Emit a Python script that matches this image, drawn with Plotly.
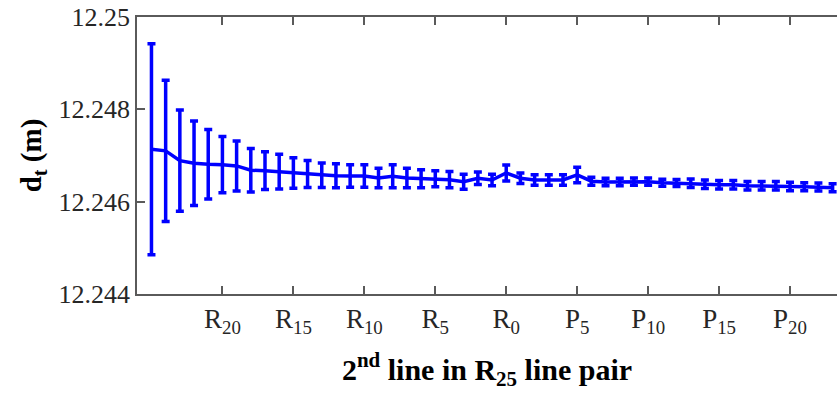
import plotly.graph_objects as go

# ---- data ----
lines = [f"R{j}" for j in range(25, -1, -1)] + [f"P{j}" for j in range(1, 24)]

d_t = [
    12.247135, 12.247100, 12.246889, 12.246832, 12.246810, 12.246802, 12.246774,
    12.246680, 12.246672, 12.246650, 12.246622, 12.246600, 12.246572, 12.246561,
    12.246557, 12.246557, 12.246514, 12.246550, 12.246514, 12.246496, 12.246496,
    12.246477, 12.246433, 12.246507, 12.246470, 12.246622,
    12.246507, 12.246470, 12.246470, 12.246470, 12.246579, 12.246444, 12.246427,
    12.246427, 12.246434, 12.246434, 12.246412, 12.246405, 12.246399, 12.246379,
    12.246366, 12.246366, 12.246345, 12.246345, 12.246345, 12.246329, 12.246323,
    12.246319, 12.246301,
]

d_err = [
    0.002286, 0.001528, 0.001094, 0.000914, 0.000752, 0.000607, 0.000542,
    0.000472, 0.000407, 0.000375, 0.000329, 0.000293, 0.000267, 0.000260,
    0.000243, 0.000243, 0.000212, 0.000249, 0.000212, 0.000195, 0.000173,
    0.000178, 0.000163, 0.000134, 0.000126, 0.000173,
    0.000113, 0.000113, 0.000113, 0.000113, 0.000169, 0.000087, 0.000082,
    0.000082, 0.000076, 0.000076, 0.000076, 0.000076, 0.000090, 0.000093,
    0.000093, 0.000093, 0.000093, 0.000093, 0.000093, 0.000090, 0.000087,
    0.000087, 0.000087,
]

x_tick_labels = ["R20", "R15", "R10", "R5", "R0", "P5", "P10", "P15", "P20"]
y_tick_vals = [12.244, 12.246, 12.248, 12.25]
y_tick_text = ["12.244", "12.246", "12.248", "12.25"]


def line_pos(name):
    j = int(name[1:])
    return -j if name[0] == "R" else j


x = [line_pos(n) for n in lines]
x_tick_vals = [line_pos(n) for n in x_tick_labels]
x_tick_text = [f"{n[0]}<sub>{n[1:]}</sub>" for n in x_tick_labels]

BLUE = "#0000ff"
AXC = "#5a5a5a"
TXT = "#262626"
FONT = "Liberation Serif, Times New Roman, serif"

fig = go.Figure()
fig.add_trace(go.Scatter(
    x=x, y=d_t, mode="lines",
    line=dict(color=BLUE, width=3.5),
    error_y=dict(type="data", array=d_err, visible=True,
                 color=BLUE, thickness=3.5, width=4),
    showlegend=False,
))

fig.update_layout(
    width=837, height=399,
    margin=dict(l=137, r=0, t=17, b=105),
    paper_bgcolor="white", plot_bgcolor="white",
    font=dict(family=FONT, size=26, color=TXT),
)
fig.update_xaxes(
    range=[-26.02, 23.31],
    tickvals=x_tick_vals, ticktext=x_tick_text,
    ticks="inside", ticklen=8, tickwidth=1.5, tickcolor=AXC,
    showline=True, linecolor=AXC, linewidth=1.5, mirror="ticks",
    showgrid=False, zeroline=False,
    tickfont=dict(family=FONT, size=27, color=TXT),
    title=dict(text="<b>2<sup>nd</sup> line in R<sub>25</sub> line pair</b>",
               font=dict(family=FONT, size=30, color="#000000"), standoff=22),
)
fig.update_yaxes(
    range=[12.244, 12.25],
    tickvals=y_tick_vals, ticktext=y_tick_text,
    ticks="inside", ticklen=8, tickwidth=1.5, tickcolor=AXC,
    showline=True, linecolor=AXC, linewidth=1.5, mirror=False,
    showgrid=False, zeroline=False,
    tickfont=dict(family=FONT, size=26, color=TXT),
    title=dict(text="<b>d<sub>t</sub> (m)</b>",
               font=dict(family=FONT, size=29, color="#000000"), standoff=8),
)

fig.write_html("out.html")
